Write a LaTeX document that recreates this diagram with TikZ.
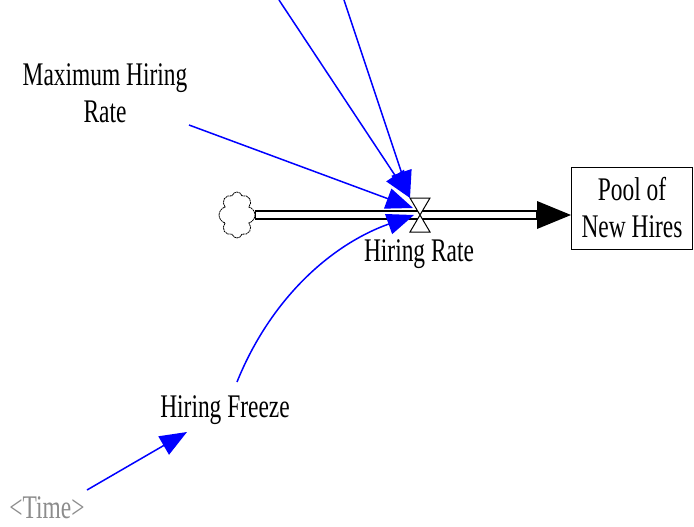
\documentclass[tikz,border=0pt]{standalone}
\usepackage{fontspec}
\setmainfont{Liberation Serif}[FakeStretch=0.71]
\usetikzlibrary{arrows.meta,shapes.symbols}
\begin{document}
\begin{tikzpicture}[x=1pt,y=-1pt,
  lbl/.style={font=\fontsize{33}{37}\selectfont, align=center, inner sep=0pt},
  link/.style={draw=blue, line width=1.5pt, -{Triangle[length=27pt,width=21pt]}},
  pipeo/.style={line width=10.5pt, draw=black},
  pipei/.style={line width=6.5pt, draw=white}]
\useasboundingbox (0,0) rectangle (694,527);
% stock
\node[draw, line width=1pt, minimum width=121pt, minimum height=82pt, lbl, inner sep=0pt] (pool) at (632,208) {Pool of\\New Hires};
% cloud
\node[cloud, cloud puffs=8, draw, dash pattern=on 2pt off 0.6pt, line width=0.8pt, minimum width=36pt, minimum height=46pt, inner sep=0pt, aspect=0.8] (cloud) at (237,215) {};
% pipe
\coordinate (valve) at (420,215);
\coordinate (pin) at (pool.west |- valve);
\draw[pipeo, shorten >=33pt] (cloud.east) -- (pin);
\draw[pipei, shorten >=35pt, shorten <=1pt] (cloud.east) -- (pin);
\fill ([xshift=-34pt,yshift=-14pt]pin) -- (pin) -- ([xshift=-34pt,yshift=14pt]pin) -- cycle;
% valve
\draw[line width=1pt, fill=white] ([shift={(-10,-17)}]valve) -- ([shift={(10,-17)}]valve) -- ([shift={(-10,17)}]valve) -- ([shift={(10,17)}]valve) -- cycle;
% labels
\node[lbl] (rate) at (419,254) {Hiring Rate};
\node[lbl] (maxr) at (105,93) {Maximum Hiring\\Rate};
\node[lbl] (freeze) at (225,410) {Hiring Freeze};
\node[lbl, text=gray!90] (time) at (47,508) {<Time>};
% connectors
\coordinate (top1) at (279,0);
\coordinate (top2) at (344,0);
\coordinate (vtl) at (410,198);
\coordinate (vl) at (413,208);
\coordinate (vb) at (414,215);
\draw[link] (top1) -- (vtl);
\draw[link] (top2) -- (vtl);
\draw[link] (189,125) -- (vl);
\draw[link] (237,382) .. controls (270,300) and (330,245) .. (vb);
\draw[link] (87,490) -- (187,432);
\end{tikzpicture}
\end{document}
